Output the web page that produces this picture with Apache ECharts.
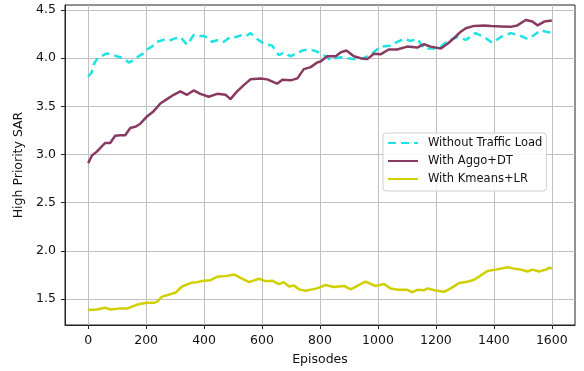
<!DOCTYPE html>
<html>
<head>
<meta charset="utf-8">
<script src="https://cdn.jsdelivr.net/npm/echarts@6/dist/echarts.min.js"></script>
<style>
  html, body { margin: 0; padding: 0; background: #fff; }
  #chart { width: 584px; height: 371px; }
</style>
</head>
<body>
<div id="chart"></div>
<script>
// data
const xTicks = [0, 200, 400, 600, 800, 1000, 1200, 1400, 1600]
const yTicks = [1.5, 2.0, 2.5, 3.0, 3.5, 4.0, 4.5]

const noLoadEp = [0,12,18,30,45,64,80,99,122,140,158,174,190,203,220,237,260,278,295,318,341,364,380,398,415,427,450,468,491,510,531,545,560,583,606,635,658,675,698,721,740,756,779,802,820,836,855,871,895,917,935,951,980,1009,1043,1067,1090,1113,1136,1159,1193,1217,1240,1274,1303,1337,1366,1395,1424,1458,1487,1516,1539,1562,1585,1600]
const noLoadVal = [3.81,3.85,3.93,3.99,4.02,4.05,4.04,4.02,4.0,3.955,3.98,4.02,4.05,4.09,4.12,4.17,4.19,4.18,4.2,4.22,4.14,4.24,4.23,4.23,4.21,4.17,4.19,4.17,4.22,4.22,4.24,4.23,4.26,4.2,4.15,4.13,4.03,4.06,4.02,4.05,4.08,4.09,4.08,4.05,4.02,3.98,4.0,4.01,4.0,3.99,3.99,4.0,4.05,4.12,4.13,4.17,4.2,4.18,4.2,4.1,4.1,4.12,4.18,4.22,4.19,4.26,4.22,4.16,4.22,4.26,4.24,4.2,4.24,4.29,4.27,4.27]

const aggoEp = [0,13,30,47,59,76,93,111,128,145,165,180,203,226,249,272,295,318,341,364,387,416,445,474,491,514,537,560,595,618,652,670,699,722,744,768,790,802,825,854,871,891,917,940,963,986,1009,1037,1066,1101,1136,1159,1182,1217,1240,1262,1286,1303,1332,1366,1390,1424,1458,1481,1510,1533,1551,1574,1600]
const aggoVal = [2.91,2.99,3.03,3.085,3.12,3.12,3.195,3.2,3.2,3.275,3.29,3.32,3.395,3.45,3.53,3.575,3.62,3.655,3.62,3.665,3.63,3.6,3.63,3.62,3.575,3.655,3.72,3.78,3.79,3.78,3.735,3.775,3.77,3.79,3.886,3.907,3.955,3.965,4.02,4.02,4.06,4.08,4.02,4.0,3.99,4.045,4.04,4.09,4.09,4.12,4.11,4.145,4.12,4.1,4.15,4.207,4.275,4.31,4.335,4.34,4.335,4.33,4.325,4.34,4.396,4.38,4.34,4.38,4.39]

const kmeansEp = [0,30,59,76,105,134,151,174,203,226,237,255,284,301,307,324,353,376,399,422,445,480,503,526,555,589,612,635,658,675,693,710,727,750,773,790,819,848,883,906,934,957,992,1021,1043,1072,1101,1119,1136,1159,1171,1194,1228,1251,1280,1309,1332,1355,1378,1407,1447,1470,1493,1516,1533,1556,1580,1591,1600]
const kmeansVal = [1.386,1.39,1.41,1.39,1.40,1.40,1.42,1.445,1.46,1.46,1.47,1.525,1.55,1.565,1.55,1.63,1.665,1.675,1.69,1.695,1.73,1.74,1.755,1.72,1.675,1.71,1.685,1.69,1.655,1.675,1.63,1.64,1.60,1.585,1.60,1.61,1.645,1.625,1.635,1.60,1.645,1.68,1.635,1.655,1.61,1.595,1.595,1.57,1.595,1.59,1.61,1.59,1.575,1.61,1.665,1.68,1.70,1.745,1.79,1.805,1.83,1.815,1.805,1.785,1.805,1.785,1.805,1.825,1.815]

const zip = (xs, ys) => xs.map((x, i) => [x, ys[i]])

const font = 'DejaVu Sans'
const chart = echarts.init(document.getElementById('chart'))

const option = {
  animation: false,
  grid: {
    left: 65,
    right: 9,
    top: 5,
    bottom: 46,
    show: true,
    borderColor: '#222',
    borderWidth: 1
  },
  legend: {
    orient: 'vertical',
    left: 383,
    top: 133,
    itemWidth: 30,
    itemHeight: 14,
    itemGap: 6,
    padding: [4, 4, 6, 4],
    backgroundColor: 'rgba(255,255,255,0.85)',
    borderColor: '#d0d0d0',
    borderWidth: 1,
    borderRadius: 3,
    itemStyle: { opacity: 0 },
    textStyle: { fontFamily: font, fontSize: 11.5, color: '#111', padding: [0, 0, 0, 5] },
    data: ['Without Traffic Load', 'With Aggo+DT', 'With Kmeans+LR']
  },
  xAxis: {
    type: 'value',
    min: -80,
    max: 1680,
    name: 'Episodes',
    nameLocation: 'middle',
    nameGap: 28,
    nameTextStyle: { fontFamily: font, fontSize: 12.5, color: '#111' },
    axisLine: { show: true, onZero: false, lineStyle: { color: '#222', width: 1 } },
    axisTick: { show: true, length: 4, lineStyle: { color: '#222' }, customValues: xTicks },
    axisLabel: {
      fontFamily: font, fontSize: 12.5, color: '#111', margin: 9,
      customValues: xTicks,
      formatter: v => String(v)
    },
    splitLine: { show: true, lineStyle: { color: '#c0c0c0', width: 1 } }
  },
  yAxis: {
    type: 'value',
    min: 1.23,
    max: 4.552,
    name: 'High Priority SAR',
    nameLocation: 'middle',
    nameGap: 39,
    nameTextStyle: { fontFamily: font, fontSize: 12.5, color: '#111' },
    axisLine: { show: true, onZero: false, lineStyle: { color: '#222', width: 1 } },
    axisTick: { show: true, length: 4, lineStyle: { color: '#222' }, customValues: yTicks },
    axisLabel: {
      fontFamily: font, fontSize: 12.5, color: '#111', margin: 9,
      customValues: yTicks,
      formatter: v => v.toFixed(1)
    },
    splitLine: { show: true, lineStyle: { color: '#c0c0c0', width: 1 } }
  },
  series: [
    {
      name: 'Without Traffic Load',
      type: 'line',
      showSymbol: false,
      symbol: 'none',
      itemStyle: { color: '#1ee3e3' },
      lineStyle: { color: '#1ee3e3', width: 2.5, type: [8, 5] },
      data: zip(noLoadEp, noLoadVal)
    },
    {
      name: 'With Aggo+DT',
      type: 'line',
      showSymbol: false,
      symbol: 'none',
      itemStyle: { color: '#883a62' },
      lineStyle: { color: '#883a62', width: 2.5 },
      data: zip(aggoEp, aggoVal)
    },
    {
      name: 'With Kmeans+LR',
      type: 'line',
      showSymbol: false,
      symbol: 'none',
      itemStyle: { color: '#d0d000' },
      lineStyle: { color: '#d0d000', width: 2.5 },
      data: zip(kmeansEp, kmeansVal)
    }
  ]
}

chart.setOption(option)
</script>
</body>
</html>
